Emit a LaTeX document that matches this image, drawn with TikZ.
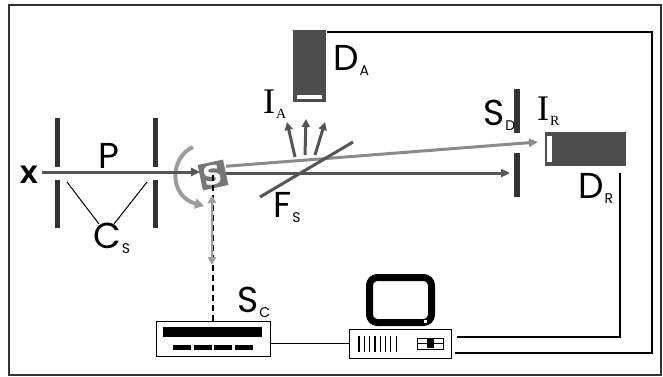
\documentclass[tikz,border=0pt]{standalone}
\usepackage{fontspec}
\setmainfont{Poppins}
\newfontfamily\serifI{Liberation Serif}
\newfontfamily\boldsans{DejaVu Sans}
\usetikzlibrary{arrows.meta}

\definecolor{beamgray}{HTML}{555555}
\definecolor{lightbeam}{HTML}{8A8A8A}
\definecolor{arcgray}{HTML}{9C9C9C}
\definecolor{plategray}{HTML}{333333}
\definecolor{detgray}{HTML}{4D4D4D}
\definecolor{boxgray}{HTML}{777777}

\newcommand{\sublab}[2]{#1\kern1pt\raisebox{-5pt}{\fontsize{14}{14}\selectfont #2}}

\tikzstyle{tag} = [anchor=base west,inner sep=0pt,font=\fontsize{36}{36}\selectfont]
\tikzstyle{plate} = [fill=plategray,inner sep=0pt,minimum width=5pt]
\tikzstyle{detector} = [fill=detgray,inner sep=0pt]
\tikzstyle{beam} = [draw=beamgray,line width=3pt,-{Triangle[length=9pt,width=8pt]}]
\tikzstyle{lightray} = [draw=lightbeam,line width=3pt,-{Triangle[length=9pt,width=8pt]}]
\tikzstyle{wire} = [draw,line width=1.5pt]
\tikzstyle{unit} = [draw,line width=1pt,fill=white,inner sep=0pt]

\begin{document}
\begin{tikzpicture}[x=1pt,y=-1pt]
  \useasboundingbox (0,0) rectangle (663,376);
  \draw[line width=2pt,draw=black!80] (9,5) rectangle (661,375);

  % deflection plates
  \foreach \nodename/\x/\y/\h in {p1u/57/142/49, p1d/57/204/48, p2u/155/142/49, p2d/155/204/48}
  {
    \node[plate,minimum height=\h] (\nodename) at (\x,\y) {};
  };
  \node[anchor=center,inner sep=0pt,font=\boldsans\bfseries\fontsize{24}{24}\selectfont] (x) at (29,175) {X};
  \node[tag] (p) at (98,168) {P};
  \node[tag] (cs) at (93,248) {\sublab{C}{S}};
  \coordinate (cs1) at (67,182);
  \coordinate (cs2) at (147,182);
  \draw[line width=1pt] (cs1) -- (99,224);
  \draw[line width=1pt] (cs2) -- (114,224);

  % scanner
  \node[fill=boxgray,minimum width=26pt,minimum height=26pt,inner sep=0pt,rotate=12,text=white,
        font=\boldsans\bfseries\fontsize{26}{26}\selectfont] (s) at (213,175) {S};
  \coordinate (arcstart) at (193,147);
  \coordinate (arcend) at (204,206);
  \draw[draw=arcgray,line width=4pt,-{Triangle[length=9pt,width=10pt]}]
    (arcstart) .. controls (170,157) and (168,196) .. (arcend);

  % beams
  \draw[beam] (x.east |- 0,172) ++(4,0) -- (s.west |- 0,172);
  \coordinate (sdhit) at (510,173);
  \draw[lightray] (s.east) ++(0,-6) -- (538,142);
  \draw[beam] (s.east |- 0,173) -- (sdhit);

  % splitter and scattered light
  \coordinate (fs1) at (260,197);
  \coordinate (fs2) at (353,142);
  \draw[draw=beamgray,line width=3pt] (fs1) -- (fs2);
  \foreach \sx/\sy/\ex/\ey in {295/157/287/122, 305/155/306/119, 315/155/325/122}
  {
    \draw[draw=beamgray,line width=3pt,-{Triangle[length=8pt,width=8pt]}] (\sx,\sy) -- (\ex,\ey);
  };
  \node[tag] (fs) at (273,217) {\sublab{F}{S}};
  \node[tag] (ia) at (263,113) {\sublab{\serifI I}{A}};

  % detectors
  \node[detector,minimum width=33pt,minimum height=72pt] (da) at (309.5,66) {};
  \fill[white] (297,94.5) rectangle (322,99);
  \node[tag] (dalab) at (333,70) {\sublab{D}{A}};
  \node[plate,minimum width=6pt,minimum height=44pt] (sdup) at (517,111) {};
  \node[plate,minimum width=6pt,minimum height=44pt] (sddown) at (517,175) {};
  \node[tag] (sd) at (483,125) {\sublab{S}{D}};
  \node[tag] (ir) at (537,120) {\sublab{\serifI I}{R}};
  \node[detector,minimum width=81pt,minimum height=34pt] (dr) at (585.5,149) {};
  \fill[white] (547,136) rectangle (552,162);
  \node[tag] (drlab) at (578,198) {\sublab{D}{R}};

  % scan controller
  \node[unit,minimum width=114pt,minimum height=35pt] (sc) at (213,338.5) {};
  \fill (163,327) rectangle (262,337);
  \foreach \x in {173,194,214,235}
  {
    \fill (\x,345) rectangle ++(18,5);
  };
  \node[tag] (sclab) at (237,312) {\sublab{S}{C}};
  \draw[dashed,line width=1.5pt,dash pattern=on 6pt off 4pt] (s.center) -- (sc.north);
  \coordinate (ctl1) at (212,195);
  \coordinate (ctl2) at (212,265);
  \draw[draw=arcgray,line width=2.5pt,{Triangle[length=8pt,width=8pt]}-{Triangle[length=8pt,width=8pt]}] (ctl1) -- (ctl2);

  % computer
  \node[draw,line width=7pt,rounded corners=8pt,minimum width=62pt,minimum height=45pt,inner sep=0pt] (mon) at (400.5,300) {};
  \fill[white] (424,320) rectangle (427,323);
  \node[unit,minimum width=102pt,minimum height=29pt] (pc) at (400,343.5) {};
  \foreach \i in {0,...,7}
  {
    \draw[line width=1.2pt] (359+\i*5.3,336) -- (359+\i*5.3,352);
  };
  \draw[line width=1pt] (417,338) rectangle (443,349);
  \draw[line width=0.6pt] (417,343.5) -- (443,343.5);
  \fill (427,339) rectangle (434,348);

  % cables
  \draw[wire] (sc.east |- pc.west) -- (pc.west);
  \draw[wire] ([xshift=5pt,yshift=6.5pt]pc.east) -- (620,337) -- (620,173);
  \draw[wire] ([xshift=3pt,yshift=-9.5pt]pc.east) -- (652,353) -- (652,32) -- (327,32);
\end{tikzpicture}
\end{document}
